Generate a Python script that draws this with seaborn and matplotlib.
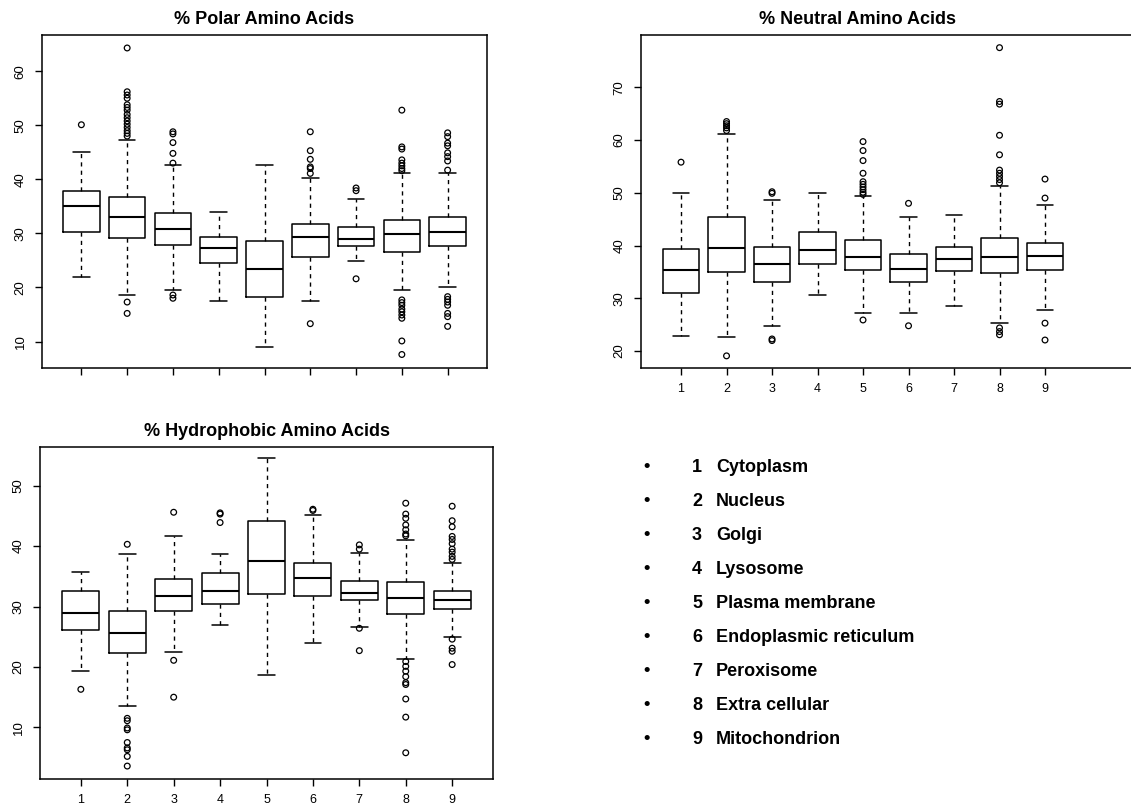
import matplotlib
matplotlib.use("Agg")
import matplotlib.pyplot as plt
import seaborn as sns
import pandas as pd

# ---------------- data ----------------
sites = [1, 2, 3, 4, 5, 6, 7, 8, 9]
site_names = ["Cytoplasm", "Nucleus", "Golgi", "Lysosome", "Plasma membrane",
              "Endoplasmic reticulum", "Peroxisome", "Extra cellular", "Mitochondrion"]

# % Polar amino acids
polar_whislo = [21.9, 18.6, 19.5, 17.5, 8.9, 17.5, 24.9, 19.6, 20.1]
polar_q1 = [30.2, 29.2, 27.8, 24.5, 18.3, 25.7, 27.7, 26.6, 27.7]
polar_med = [35.1, 33.1, 30.9, 27.3, 23.5, 29.4, 29.0, 29.8, 30.2]
polar_q3 = [37.9, 36.7, 33.8, 29.4, 28.6, 31.7, 31.2, 32.5, 33.0]
polar_whishi = [45.0, 47.3, 42.7, 33.9, 42.7, 40.2, 36.3, 41.2, 41.1]
polar_fliers = [
    [50.1],
    [64.3, 56.2, 55.6, 55.0, 53.8, 53.3, 52.8, 52.0, 51.4, 50.8, 50.2, 49.6, 49.0, 48.5, 48.0, 17.3, 15.2],
    [48.8, 48.4, 46.8, 44.8, 43.0, 18.6, 18.0],
    [],
    [],
    [48.8, 45.3, 43.7, 42.3, 42.0, 41.1, 13.3],
    [38.4, 37.9, 21.6],
    [52.8, 46.0, 45.6, 43.6, 43.0, 42.5, 42.0, 41.6, 17.7, 17.2, 16.7, 16.0, 15.5, 14.9, 14.3, 10.1, 7.6],
    [48.6, 47.9, 46.7, 46.2, 44.9, 44.2, 43.4, 41.7, 18.3, 17.8, 17.3, 16.7, 15.2, 14.6, 12.8],
]

# % Neutral amino acids
neutral_whislo = [22.8, 22.6, 24.8, 30.7, 27.3, 27.3, 28.6, 25.4, 27.7]
neutral_q1 = [31.1, 35.0, 33.1, 36.5, 35.4, 33.1, 35.1, 34.8, 35.3]
neutral_med = [35.4, 39.5, 36.5, 39.1, 37.9, 35.5, 37.5, 37.8, 38.0]
neutral_q3 = [39.4, 45.5, 39.8, 42.5, 41.1, 38.4, 39.7, 41.4, 40.4]
neutral_whishi = [50.0, 61.1, 48.6, 49.9, 49.4, 45.5, 45.7, 51.3, 47.7]
neutral_fliers = [
    [55.8],
    [63.5, 63.1, 62.7, 62.3, 61.8, 19.1],
    [50.2, 49.9, 22.3, 22.0],
    [],
    [59.7, 58.0, 56.1, 53.7, 52.1, 51.6, 51.1, 50.6, 50.1, 49.7, 25.9],
    [48.0, 24.8],
    [],
    [77.5, 67.3, 66.8, 60.9, 57.2, 54.3, 53.7, 53.1, 52.5, 51.9, 24.4, 23.7, 23.1],
    [52.6, 49.0, 25.3, 22.1],
]

# % Hydrophobic amino acids
hydro_whislo = [19.3, 13.5, 22.5, 27.0, 18.7, 24.0, 26.6, 21.4, 24.9]
hydro_q1 = [26.1, 22.3, 29.3, 30.5, 32.0, 31.8, 31.0, 28.8, 29.6]
hydro_med = [28.9, 25.6, 31.8, 32.5, 37.6, 34.8, 32.2, 31.4, 31.1]
hydro_q3 = [32.5, 29.3, 34.6, 35.5, 44.2, 37.2, 34.2, 34.0, 32.5]
hydro_whishi = [35.7, 38.7, 41.7, 38.7, 54.5, 45.2, 38.9, 41.0, 37.2]
hydro_fliers = [
    [16.3],
    [40.3, 11.5, 11.1, 9.9, 9.6, 7.5, 6.6, 6.3, 5.2, 3.6],
    [45.6, 21.1, 15.0],
    [45.5, 45.3, 43.9],
    [],
    [46.1, 45.9],
    [40.2, 39.5, 26.4, 22.7],
    [47.1, 45.3, 44.6, 43.5, 42.7, 42.0, 41.7, 20.9, 20.1, 19.3, 18.4, 17.4, 17.1, 14.7, 11.7, 5.8],
    [46.6, 44.2, 43.2, 41.6, 41.1, 40.4, 39.5, 39.0, 38.3, 37.8, 24.6, 23.1, 22.6, 20.4],
]

# ---------------- style ----------------
sns.set_theme(style="white")
plt.rcParams["font.family"] = ["Liberation Sans", "DejaVu Sans"]
plt.rcParams["text.color"] = "black"
plt.rcParams["axes.titlecolor"] = "black"

W, H = 1131, 811
fig = plt.figure(figsize=(W / 100, H / 100), dpi=100)


def px_axes(left, top, right, bottom):
    return fig.add_axes([left / W, 1 - bottom / H, (right - left) / W, (bottom - top) / H])


def draw_panel(ax, title, whislo, q1, med, q3, whishi, fliers, xlim, ylim, yticks, xlabels):
    stats = []
    for i in range(len(sites)):
        stats.append(dict(whislo=whislo[i], q1=q1[i], med=med[i], q3=q3[i],
                          whishi=whishi[i], fliers=[]))
    ax.bxp(stats, positions=sites, widths=0.8, showfliers=False,
           capwidths=0.36,
           boxprops=dict(color="black", linewidth=1.1),
           whiskerprops=dict(color="black", linewidth=1.0, linestyle=(0, (3, 3))),
           capprops=dict(color="black", linewidth=1.1),
           medianprops=dict(color="black", linewidth=1.5))
    df = pd.DataFrame({
        "site": [sites[i] for i in range(len(sites)) for _ in fliers[i]],
        "value": [v for f in fliers for v in f],
    })
    sns.scatterplot(data=df, x="site", y="value", ax=ax, marker="o", s=17,
                    facecolors="none", edgecolor="black", linewidth=0.9, legend=False)
    ax.set_xlim(*xlim)
    ax.set_ylim(*ylim)
    ax.set_xticks(sites)
    if xlabels:
        ax.set_xticklabels([str(s) for s in sites], fontsize=9)
    else:
        ax.set_xticklabels([])
    ax.set_yticks(yticks)
    ax.set_yticklabels([str(t) for t in yticks], rotation=90, va="center", fontsize=9.5)
    ax.tick_params(axis="both", which="both", direction="out", length=5, width=1,
                   color="black", labelcolor="black", bottom=True, left=True, pad=6)
    ax.set_xlabel("")
    ax.set_ylabel("")
    for s in ax.spines.values():
        s.set_color("black")
        s.set_linewidth(1.1)
    ax.set_title(title, fontsize=13, fontweight="bold", pad=8, color="black")


ax1 = px_axes(42, 35, 487, 368)
draw_panel(ax1, "% Polar Amino Acids", polar_whislo, polar_q1, polar_med, polar_q3,
           polar_whishi, polar_fliers, (0.14, 9.86), (5.1, 66.7), [10, 20, 30, 40, 50, 60], False)

ax2 = px_axes(641, 35, 1131, 368)
draw_panel(ax2, "% Neutral Amino Acids", neutral_whislo, neutral_q1, neutral_med, neutral_q3,
           neutral_whishi, neutral_fliers, (0.12, 10.89), (16.8, 79.9), [20, 30, 40, 50, 60, 70], True)
ax2.spines["right"].set_visible(False)
ax2.title.set_position((0.442, 1.0))

ax3 = px_axes(40, 447, 493, 779)
draw_panel(ax3, "% Hydrophobic Amino Acids", hydro_whislo, hydro_q1, hydro_med, hydro_q3,
           hydro_whishi, hydro_fliers, (0.12, 9.88), (1.46, 56.4), [10, 20, 30, 40, 50], True)

# key text
for i, (s, name) in enumerate(zip(sites, site_names)):
    y = 1 - (467 + 34 * i) / H
    fig.text(647 / W, y, "\u2022", fontsize=13, fontweight="bold", ha="center", va="center", color="black")
    fig.text(697 / W, y, str(s), fontsize=13, fontweight="bold", ha="center", va="center", color="black")
    fig.text(716 / W, y, name, fontsize=13, fontweight="bold", ha="left", va="center", color="black")

fig.savefig("out.png", dpi=100)
